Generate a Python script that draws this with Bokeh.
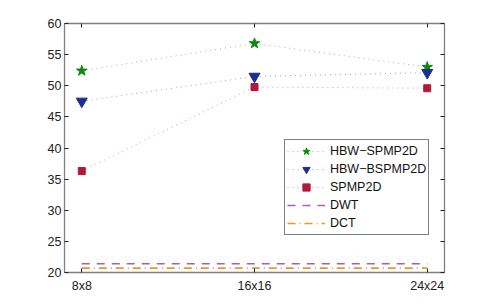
from bokeh.plotting import figure
from bokeh.models import (Range1d, FixedTicker, LinearAxis, Legend, LegendItem,
                          CustomJSTickFormatter)
from bokeh.embed import file_html
from bokeh.resources import INLINE

# ---- data ----
categories = ["8x8", "16x16", "24x24"]
xpos = [1, 2, 3]
hbw_spmp2d = [52.4, 56.8, 53.0]
hbw_bspmp2d = [47.5, 51.5, 52.1]
spmp2d = [36.3, 49.8, 49.6]
dwt = [21.4, 21.4, 21.4]
dct = [20.7, 20.7, 20.7]
y_ticks = [20, 25, 30, 35, 40, 45, 50, 55, 60]

FONT = "Liberation Sans"
FS = "12.5px"

p = figure(frame_width=380, frame_height=249, output_backend="svg",
           toolbar_location=None, x_range=Range1d(0.9, 3.1), y_range=Range1d(20, 60),
           min_border_left=64, min_border_right=40, min_border_top=23, min_border_bottom=30)
p.xgrid.visible = False
p.ygrid.visible = False
p.outline_line_color = None
p.background_fill_color = "white"
p.border_fill_color = "white"

def style_axis(ax):
    ax.axis_line_color = "#808080"
    ax.axis_line_width = 1.3
    ax.major_tick_in = 4
    ax.major_tick_out = 0
    ax.minor_tick_line_color = None
    ax.major_tick_line_color = "#222222"
    ax.major_label_text_font = FONT
    ax.major_label_text_font_size = FS
    ax.major_label_text_color = "#222222"
    ax.major_label_standoff = 3

p.xaxis.ticker = FixedTicker(ticks=xpos)
p.xaxis.major_label_overrides = {x: c for x, c in zip(xpos, categories)}
p.yaxis.ticker = FixedTicker(ticks=y_ticks)
style_axis(p.xaxis[0])
style_axis(p.yaxis[0])
p.xaxis.major_label_standoff = 6

blank = CustomJSTickFormatter(code="return '';")
top = LinearAxis(ticker=FixedTicker(ticks=xpos), formatter=blank)
style_axis(top)
p.add_layout(top, "above")
right = LinearAxis(ticker=FixedTicker(ticks=y_ticks), formatter=blank)
style_axis(right)
p.add_layout(right, "right")

green, blue, red = "#0a8a0a", "#1a2f8f", "#b0183c"
purple, orange = "#a65cc0", "#f0961e"

l1 = p.line(xpos, hbw_spmp2d, line_color="#3aa83a", line_dash="1 4", line_width=1, line_alpha=0.6)
m1 = p.scatter(xpos, hbw_spmp2d, marker="star", size=11, fill_color=green, line_color=green)
l2 = p.line(xpos, hbw_bspmp2d, line_color="#5060c8", line_dash="1 4", line_width=1, line_alpha=0.6)
m2 = p.scatter(xpos, hbw_bspmp2d, marker="inverted_triangle", size=11, fill_color=blue, line_color=blue)
l3 = p.line(xpos, spmp2d, line_color="#d04870", line_dash="1 4", line_width=1, line_alpha=0.6)
m3 = p.scatter(xpos, spmp2d, marker="square", size=7, fill_color=red, line_color=red)
l4 = p.line(xpos, dwt, line_color=purple, line_dash="8 7", line_width=1.6)
l5 = p.line(xpos, dct, line_color=orange, line_dash="8 4 1 4", line_width=1.6)

legend = Legend(items=[
    LegendItem(label="HBW\u2212SPMP2D", renderers=[l1, m1]),
    LegendItem(label="HBW\u2212BSPMP2D", renderers=[l2, m2]),
    LegendItem(label="SPMP2D", renderers=[l3, m3]),
    LegendItem(label="DWT", renderers=[l4]),
    LegendItem(label="DCT", renderers=[l5]),
], location=(220, 37))
legend.border_line_color = "black"
legend.border_line_width = 1
legend.background_fill_color = "white"
legend.background_fill_alpha = 1
legend.label_text_font = FONT
legend.label_text_font_size = FS
legend.label_text_color = "#111111"
legend.padding = 2
legend.spacing = 0
legend.margin = 0
legend.glyph_width = 38
legend.glyph_height = 18
legend.label_height = 15
legend.label_standoff = 5
p.add_layout(legend, "center")

open("out.html", "w").write(file_html(p, INLINE))
